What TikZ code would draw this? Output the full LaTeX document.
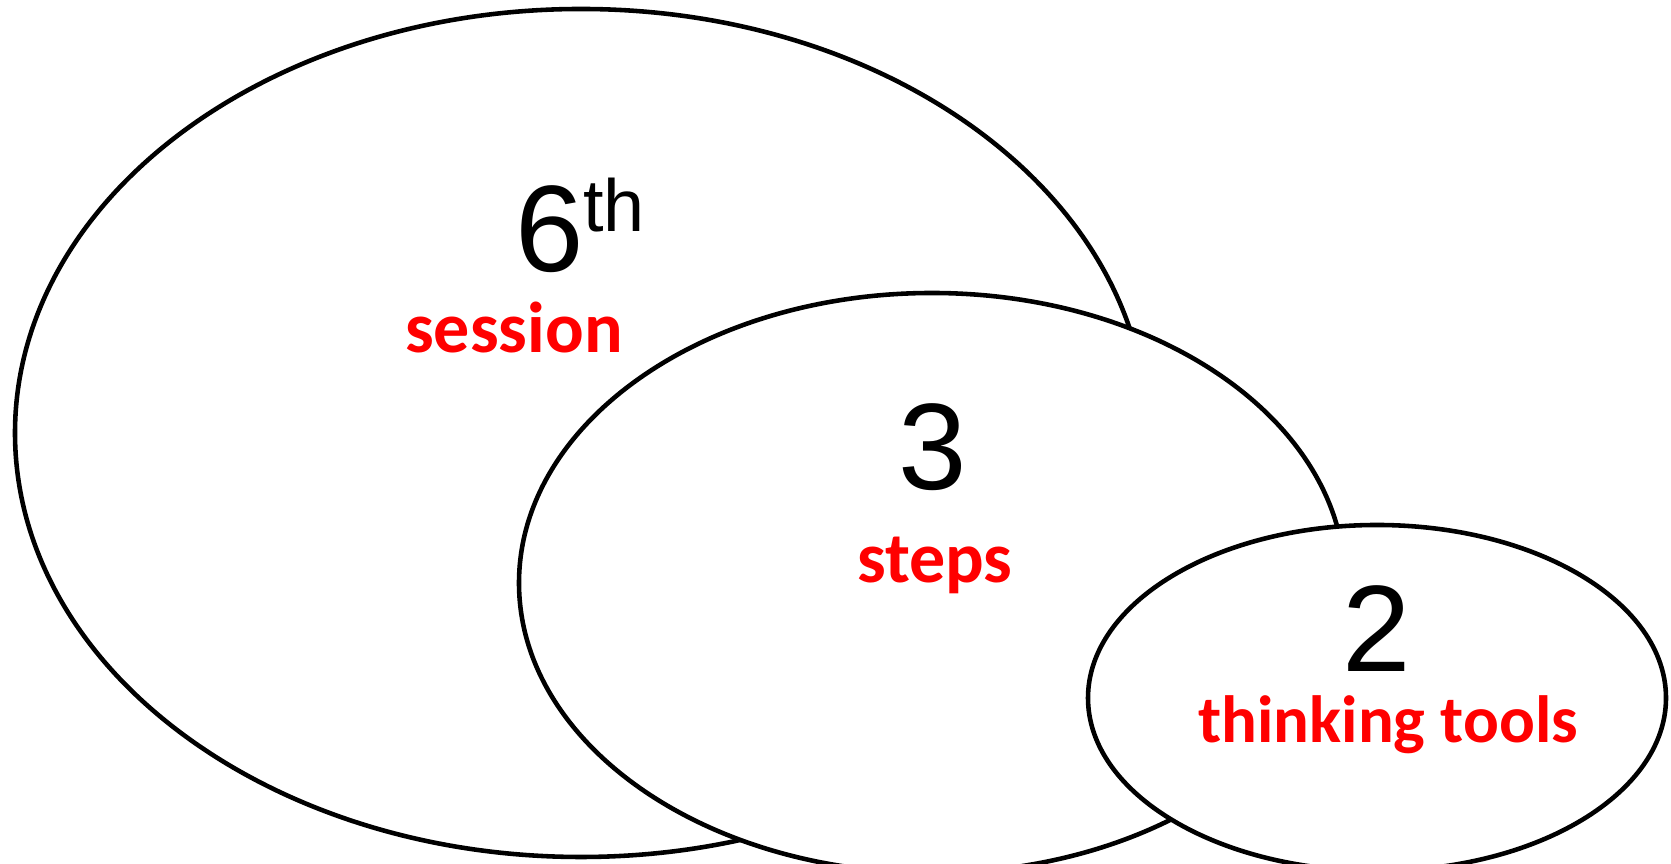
\documentclass[tikz,border=0pt]{standalone}
\usepackage{fontspec}
\setmainfont{Liberation Sans}
\newfontfamily\calibri{Carlito}
\usetikzlibrary{positioning}

\begin{document}
\begin{tikzpicture}[ring/.style={draw=black,line width=1.3pt,fill=white},
  num/.style={anchor=base,inner sep=0pt,font=\fontsize{35}{35}\selectfont},
  lbl/.style={anchor=base,inner sep=0pt,text=red,font=\calibri\bfseries\fontsize{20.5}{20.5}\selectfont}]
\useasboundingbox (0,0) rectangle (16.71,8.64);
\draw[ring] (5.81,4.31) ellipse (5.66 and 4.24);
\draw[ring] (9.32,2.81) ellipse (4.13 and 2.90);
\draw[ring] (13.77,1.66) ellipse (2.89 and 1.73);
\node[num] (six) at (5.80,5.92) {6\raisebox{0.4cm}{\fontsize{21}{21}\selectfont th}};
\node[lbl] (session) at (5.14,5.11) {session};
\node[num] (three) at (9.33,3.74) {3};
\node[lbl] (steps) at (9.35,2.81) {steps};
\node[num] (two) at (13.77,1.92) {2};
\node[lbl,font=\calibri\bfseries\fontsize{19}{19}\selectfont] (tools) at (13.88,1.21) {thinking tools};
\end{tikzpicture}
\end{document}
